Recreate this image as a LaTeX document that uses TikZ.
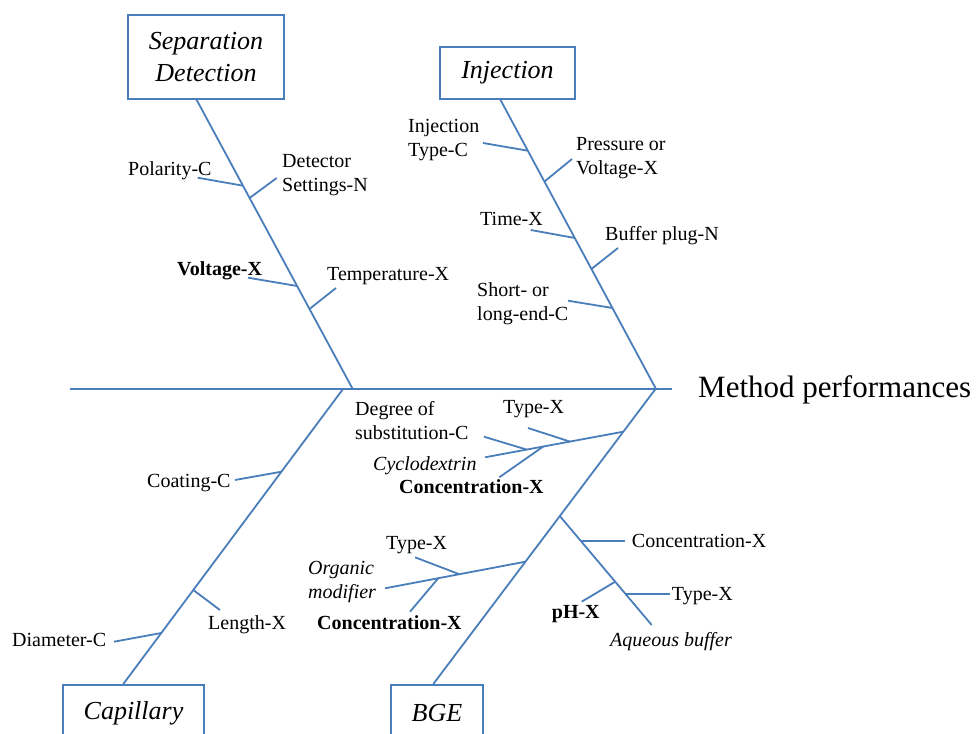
\documentclass[tikz,border=0pt]{standalone}
\usepackage{fontspec}
\setmainfont{Liberation Serif}
\usetikzlibrary{calc}
\definecolor{lineblue}{RGB}{74,126,187}
\tikzset{
  bone/.style={draw=lineblue, line width=1.8pt},
  lbl/.style={font=\fontsize{20}{24}\selectfont, inner sep=0pt, align=left, anchor=base west},
  catbox/.style={draw=lineblue, line width=1.8pt, font=\fontsize{26}{31.7}\selectfont\itshape, inner sep=0pt, align=center},
}
\begin{document}
\begin{tikzpicture}[x=1pt, y=-1pt]
\useasboundingbox (0,0) rectangle (976,733);
\clip (0,0) rectangle (976,733);
\fill[white] (0,0) rectangle (976,733);

% category boxes
\node[catbox, minimum width=156pt, minimum height=84.7pt] (sd) at (206,57) {Separation\\Detection};
\node[catbox, minimum width=135pt, minimum height=52.3pt] (inj) at (507.5,72.9) {Injection};
\node[catbox, minimum width=141pt, minimum height=56pt] (cap) at (133.5,713) {Capillary};
\node[catbox, minimum width=92pt, minimum height=56pt] (bge) at (437,713) {BGE};

% spine
\coordinate (tail) at (70,389);
\coordinate (tip) at (672,389);
\coordinate (s1) at (352.7,389);
\coordinate (s1b) at (343,389);
\coordinate (s2) at (656,389);
\coordinate (s2b) at (655.5,389);
\draw[bone] (tail) -- (tip);
\node[font=\fontsize{31}{36}\selectfont, inner sep=0pt, anchor=base west] (mp) at (698,397) {Method performances};

% main bones
\coordinate (sdtop) at (196,98.7);
\coordinate (injtop) at (500,99);
\coordinate (capbot) at (123.3,684);
\coordinate (bgebot) at (433.3,684);
\draw[bone] (sdtop) -- (s1);
\draw[bone] (injtop) -- (s2);
\draw[bone] (s1b) -- (capbot);
\draw[bone] (s2b) -- (bgebot);

% Separation / Detection branches
\coordinate (jpol) at (243,185.7);  \coordinate (epol) at (197.7,177.7);
\coordinate (jdet) at (249.6,198);  \coordinate (edet) at (276.7,178);
\coordinate (jvol) at (297.1,286);  \coordinate (evol) at (248,277.7);
\coordinate (jtem) at (309.5,309);  \coordinate (etem) at (336,288);
\draw[bone] (epol) -- (jpol);
\draw[bone] (edet) -- (jdet);
\draw[bone] (evol) -- (jvol);
\draw[bone] (etem) -- (jtem);
\node[lbl] (tpol) at (128,175) {Polarity-C};
\node[lbl] (tdet) at (282,191) {Detector\\Settings-N};
\node[lbl, font=\fontsize{20}{24}\selectfont\bfseries] (tvol) at (177,275) {Voltage-X};
\node[lbl] (ttem) at (327,280) {Temperature-X};

% Injection branches
\coordinate (jity) at (527.8,150.7); \coordinate (eity) at (483,143);
\coordinate (jpre) at (544.5,181.5); \coordinate (epre) at (572,159);
\coordinate (jtim) at (574.8,238);   \coordinate (etim) at (530.7,230);
\coordinate (jbuf) at (591.4,269);   \coordinate (ebuf) at (618,248);
\coordinate (jsho) at (612.4,308);   \coordinate (esho) at (568,300.7);
\draw[bone] (eity) -- (jity);
\draw[bone] (epre) -- (jpre);
\draw[bone] (etim) -- (jtim);
\draw[bone] (ebuf) -- (jbuf);
\draw[bone] (esho) -- (jsho);
\node[lbl] (tity) at (408,156.5) {Injection\\Type-C};
\node[lbl] (tpre) at (576,174.5) {Pressure or\\Voltage-X};
\node[lbl] (ttim) at (480,225.5) {Time-X};
\node[lbl] (tbuf) at (605,240.5) {Buffer plug-N};
\node[lbl] (tsho) at (477,320.5) {Short- or\\long-end-C};

% Capillary branches
\coordinate (jcoa) at (281.4,471.7); \coordinate (ecoa) at (235,480);
\coordinate (jlen) at (193.3,590);   \coordinate (elen) at (220,610);
\coordinate (jdia) at (161.3,633);   \coordinate (edia) at (114,641.7);
\draw[bone] (ecoa) -- (jcoa);
\draw[bone] (elen) -- (jlen);
\draw[bone] (edia) -- (jdia);
\node[lbl] (tcoa) at (147,487) {Coating-C};
\node[lbl] (tlen) at (208,629.5) {Length-X};
\node[lbl] (tdia) at (12,646) {Diameter-C};

% BGE: cyclodextrin
\coordinate (jcyc) at (623.3,431.7); \coordinate (ecyc) at (485,457.3);
\coordinate (jcty) at (570,441.6);   \coordinate (ecty) at (528,428);
\coordinate (jdeg) at (526.7,449.6); \coordinate (edeg) at (484,436.7);
\coordinate (jcco) at (543.3,446.5); \coordinate (ecco) at (499.3,477.3);
\draw[bone] (jcyc) -- (ecyc);
\draw[bone] (ecty) -- (jcty);
\draw[bone] (edeg) -- (jdeg);
\draw[bone] (ecco) -- (jcco);
\node[lbl] (tdeg) at (355,439) {Degree of\\substitution-C};
\node[lbl] (tcty) at (503,413) {Type-X};
\node[lbl, font=\fontsize{20}{24}\selectfont\itshape] (tcyc) at (373,470) {Cyclodextrin};
\node[lbl, font=\fontsize{20}{24}\selectfont\bfseries] (tcco) at (399,493) {Concentration-X};

% BGE: aqueous buffer
\coordinate (jaq) at (559.8,516);    \coordinate (eaq) at (651.7,625);
\coordinate (jaco) at (580.9,541);   \coordinate (eaco) at (625,541);
\coordinate (japh) at (615.2,581.7); \coordinate (eaph) at (581.7,601.7);
\coordinate (jaty) at (625.8,594.3); \coordinate (eaty) at (670,594.3);
\draw[bone] (jaq) -- (eaq);
\draw[bone] (jaco) -- (eaco);
\draw[bone] (eaph) -- (japh);
\draw[bone] (jaty) -- (eaty);
\node[lbl] (taco) at (631.7,547) {Concentration-X};
\node[lbl] (taty) at (671.7,600) {Type-X};
\node[lbl, font=\fontsize{20}{24}\selectfont\bfseries] (taph) at (551.7,618.3) {pH-X};
\node[lbl, font=\fontsize{20}{24}\selectfont\itshape] (taq) at (610,646) {Aqueous buffer};

% BGE: organic modifier
\coordinate (jorg) at (525.4,561.7); \coordinate (eorg) at (385,588.3);
\coordinate (joty) at (459.3,574.2); \coordinate (eoty) at (415,557.3);
\coordinate (joco) at (438.3,578.2); \coordinate (eoco) at (410,611.7);
\draw[bone] (jorg) -- (eorg);
\draw[bone] (eoty) -- (joty);
\draw[bone] (eoco) -- (joco);
\node[lbl] (toty) at (386,549) {Type-X};
\node[lbl, font=\fontsize{20}{24}\selectfont\itshape] (torg) at (308,598) {Organic\\modifier};
\node[lbl, font=\fontsize{20}{24}\selectfont\bfseries] (toco) at (317,629) {Concentration-X};
\end{tikzpicture}
\end{document}
